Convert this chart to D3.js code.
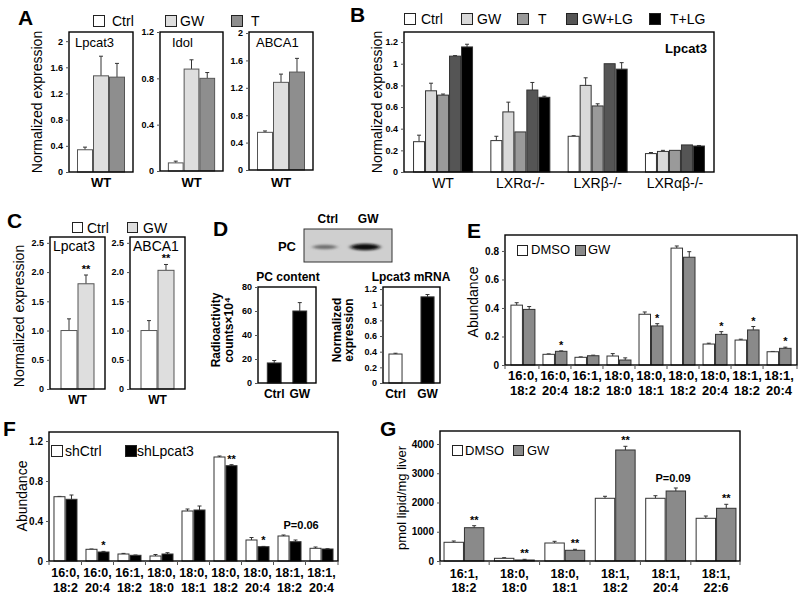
<!DOCTYPE html>
<html><head><meta charset="utf-8">
<script src="https://cdn.jsdelivr.net/npm/d3@7"></script>
<style>
body{margin:0;background:#fff;}
svg{display:block;font-family:"Liberation Sans",Arial,Helvetica,sans-serif;}
</style></head><body>
<svg id="c" width="800" height="596"></svg>
<script>
// ================= DATA =================
// Panel A
const aGroups = ["WT"];
const aSeries = ["Ctrl", "GW", "T"];
const aLpcat3 = [0.34, 1.47, 1.45];
const aLpcat3Err = [0.04, 0.30, 0.21];
const aIdol = [0.07, 0.88, 0.80];
const aIdolErr = [0.015, 0.08, 0.05];
const aABCA1 = [0.55, 1.28, 1.43];
const aABCA1Err = [0.02, 0.12, 0.20];
const aTicks2 = [0, 0.4, 0.8, 1.2, 1.6, 2];
const aTickLabels2 = ["0", "0.4", "0.8", "1.2", "1.6", "2"];
const aTicks12 = [0, 0.4, 0.8, 1.2];
const aTickLabels12 = ["0", "0.4", "0.8", "1.2"];

// Panel B
const bGroups = ["WT", "LXRα-/-", "LXRβ-/-", "LXRαβ-/-"];
const bSeries = ["Ctrl", "GW", "T", "GW+LG", "T+LG"];
const bCtrl = [0.28, 0.29, 0.33, 0.17];
const bGW = [0.75, 0.555, 0.80, 0.19];
const bT = [0.71, 0.37, 0.61, 0.20];
const bGWLG = [1.07, 0.757, 1.00, 0.25];
const bTLG = [1.155, 0.69, 0.95, 0.24];
const bCtrlErr = [0.06, 0.04, 0.005, 0.01];
const bGWErr = [0.07, 0.09, 0.07, 0.01];
const bTErr = [0.01, 0.0, 0.02, 0.0];
const bGWLGErr = [0.005, 0.07, 0.0, 0.0];
const bTLGErr = [0.025, 0.01, 0.06, 0.005];
const bTicks = [0, 0.2, 0.4, 0.6, 0.8, 1, 1.2];
const bTickLabels = ["0", "0.2", "0.4", "0.6", "0.8", "1", "1.2"];

// Panel C
const cGroups = ["WT"];
const cSeries = ["Ctrl", "GW"];
const cLpcat3 = [1.0, 1.80];
const cLpcat3Err = [0.20, 0.15];
const cABCA1 = [1.0, 2.03];
const cABCA1Err = [0.17, 0.10];
const cSig = ["**"];
const cTicks = [0, 0.5, 1, 1.5, 2, 2.5];
const cTickLabels = ["0", "0.5", "1.0", "1.5", "2.0", "2.5"];

// Panel D
const dLanes = ["Ctrl", "GW"];
const dBandIntensity = [0.45, 0.95];
const dPCcontent = [16.7, 60];
const dPCcontentErr = [2, 7];
const dMRNA = [0.37, 1.10];
const dMRNAErr = [0.01, 0.03];
const dTicksPC = [0, 20, 40, 60, 80];
const dTickLabelsPC = ["0", "20", "40", "60", "80"];
const dTicksM = [0, 0.2, 0.4, 0.6, 0.8, 1, 1.2];
const dTickLabelsM = ["0", "0.2", "0.4", "0.6", "0.8", "1", "1.2"];

// Panel E
const eCats = [["16:0,", "18:2"], ["16:0,", "20:4"], ["16:1,", "18:2"], ["18:0,", "18:0"], ["18:0,", "18:1"], ["18:0,", "18:2"], ["18:0,", "20:4"], ["18:1,", "18:2"], ["18:1,", "20:4"]];
const eSeries = ["DMSO", "GW"];
const eDMSO = [0.42, 0.075, 0.054, 0.063, 0.356, 0.82, 0.147, 0.175, 0.093];
const eDMSOErr = [0.017, 0.003, 0.003, 0.017, 0.016, 0.015, 0.006, 0.006, 0.002];
const eGW = [0.39, 0.096, 0.065, 0.035, 0.274, 0.756, 0.215, 0.246, 0.117];
const eGWErr = [0.02, 0.003, 0.004, 0.015, 0.016, 0.039, 0.019, 0.024, 0.008];
const eSig = ["", "*", "", "", "*", "", "*", "*", "*"];
const eTicks = [0, 0.2, 0.4, 0.6, 0.8];
const eTickLabels = ["0", "0.2", "0.4", "0.6", "0.8"];

// Panel F
const fCats = eCats;
const fSeries = ["shCtrl", "shLpcat3"];
const fShCtrl = [0.643, 0.117, 0.07, 0.05, 0.50, 1.04, 0.21, 0.25, 0.127];
const fShCtrlErr = [0.003, 0.003, 0.006, 0.015, 0.02, 0.01, 0.025, 0.01, 0.013];
const fShLpcat3 = [0.617, 0.09, 0.057, 0.07, 0.51, 0.953, 0.143, 0.193, 0.12];
const fShLpcat3Err = [0.043, 0.006, 0.003, 0.013, 0.04, 0.01, 0.003, 0.017, 0.003];
const fSig = ["", "*", "", "", "", "**", "*", "P=0.06", ""];
const fTicks = [0, 0.4, 0.8, 1.2];
const fTickLabels = ["0", "0.4", "0.8", "1.2"];

// Panel G
const gCats = [["16:1,", "18:2"], ["18:0,", "18:0"], ["18:0,", "18:1"], ["18:1,", "18:2"], ["18:1,", "20:4"], ["18:1,", "22:6"]];
const gSeries = ["DMSO", "GW"];
const gDMSO = [640, 92, 615, 2144, 2144, 1460];
const gDMSOErr = [44, 21, 58, 68, 88, 78];
const gGW = [1138, 34, 366, 3795, 2393, 1802];
const gGWErr = [69, 24, 34, 126, 103, 136];
const gSig = ["**", "**", "**", "**", "P=0.09", "**"];
const gTicks = [0, 1000, 2000, 3000, 4000];
const gTickLabels = ["0", "1000", "2000", "3000", "4000"];

// ================= DRAWING =================
const FONT = "'Liberation Sans', Arial, Helvetica, sans-serif";
const svg = d3.select("#c");
svg.append("rect").attr("width", 800).attr("height", 596).attr("fill", "#fff");

function txt(x, y, s, o = {}) {
  const t = svg.append("text").attr("x", x).attr("y", y).text(s)
    .attr("font-size", o.size || 12).attr("font-weight", o.bold ? "bold" : "normal")
    .attr("text-anchor", o.anchor || "start").attr("fill", o.fill || "#000")
    .attr("font-family", FONT);
  if (o.rotate) t.attr("transform", `rotate(-90,${x},${y})`).attr("dominant-baseline", "central");
  return t;
}

function legend(items, colors, boxX, textX, boxY, base, size, box) {
  items.forEach((s, i) => {
    svg.append("rect").attr("x", boxX[i] + 0.5).attr("y", boxY + 0.5).attr("width", box).attr("height", box)
      .attr("fill", colors[i]).attr("stroke", "#222").attr("stroke-width", 1);
    txt(textX[i], base, s, { size });
  });
}

function barChart(c) {
  const [x0, y0, x1, y1] = c.frame;
  const g = svg.append("g");
  const y = d3.scaleLinear().domain([0, c.yMax]).range([y1, y0]);
  const xg = d3.scaleBand().domain(c.groups.map((d, i) => i)).range([x0, x1]).paddingInner(c.pi).paddingOuter(c.po);
  const xs = d3.scaleBand().domain(c.series).range([0, xg.bandwidth()]);
  const rows = [];
  c.series.forEach((s, si) => c.groups.forEach((gr, gi) => rows.push({
    s, si, gi, v: c.values[si][gi], e: c.errs ? c.errs[si][gi] : 0
  })));
  const bx = d => xg(d.gi) + xs(d.s);
  const cx = d => bx(d) + xs.bandwidth() / 2;
  const eb = rows.filter(d => d.e > 0);
  g.selectAll("line.err").data(eb).join("line").attr("class", "err")
    .attr("x1", cx).attr("x2", cx).attr("y1", d => y(d.v)).attr("y2", d => y(d.v + d.e))
    .attr("stroke", "#333").attr("stroke-width", 1);
  g.selectAll("line.cap").data(eb).join("line").attr("class", "cap")
    .attr("x1", d => cx(d) - 2).attr("x2", d => cx(d) + 2).attr("y1", d => y(d.v + d.e)).attr("y2", d => y(d.v + d.e))
    .attr("stroke", "#333").attr("stroke-width", 1);
  g.selectAll("rect.bar").data(rows).join("rect").attr("class", "bar")
    .attr("x", d => bx(d) + 0.5).attr("y", d => y(d.v)).attr("width", xs.bandwidth() - 1)
    .attr("height", d => y(0) - y(d.v))
    .attr("fill", d => c.colorByGroup ? c.colors[d.gi] : c.colors[d.si])
    .attr("stroke", c.barStroke || "#333").attr("stroke-width", 1);
  // frame
  g.append("rect").attr("x", x0).attr("y", y0).attr("width", x1 - x0).attr("height", y1 - y0)
    .attr("fill", "none").attr("stroke", "#000").attr("stroke-width", c.frameW || 1.4);
  // y axis
  const ax = g.append("g").attr("transform", `translate(${x0},0)`)
    .call(d3.axisLeft(y).tickValues(c.ticks).tickFormat((d, i) => c.tickLabels[i]).tickSizeInner(3).tickSizeOuter(0).tickPadding(3));
  ax.select(".domain").remove();
  ax.attr("font-family", FONT).attr("font-size", c.tickSize || 9).attr("font-weight", "bold");
  ax.selectAll("line").attr("stroke", "#555");
  // category ticks along bottom
  if (c.catTicks) {
    const half = xg.step() * c.pi / 2;
    const bounds = [x0].concat(c.groups.slice(1).map((d, i) => xg(i + 1) - half)).concat([x1]);
    g.selectAll("line.ct").data(bounds).join("line").attr("class", "ct")
      .attr("x1", d => d).attr("x2", d => d).attr("y1", y1).attr("y2", y1 + 4)
      .attr("stroke", "#555").attr("stroke-width", 1);
  }
  // category labels
  if (c.labels) {
    c.labels.forEach((lines, gi) => {
      const xc = xg(gi) + xg.bandwidth() / 2;
      (Array.isArray(lines) ? lines : [lines]).forEach((ln, li) => {
        txt(xc, c.labelY[li], ln, { size: c.labelSize || 12, bold: c.labelBold !== false, anchor: "middle" });
      });
    });
  }
  // significance
  if (c.sig) {
    c.sig.forEach((s, gi) => {
      if (!s) return;
      const tops = c.series.map((ser, si) => y(c.values[si][gi] + (c.errs ? c.errs[si][gi] : 0)));
      if (s.startsWith("P")) {
        const r = rows.find(d => d.gi === gi && d.si === 0);
        txt(cx(r), d3.min(tops) - 6, s, { size: c.sigPSize || 11, bold: true });
      } else {
        const si = c.sigSeries;
        const r = rows.find(d => d.gi === gi && d.si === si);
        txt(cx(r), tops[si] - 2, s, { size: 11, bold: true, anchor: "middle" });
      }
    });
  }
  return { y, xg, xs };
}

// ---------- Panel A ----------
txt(18, 25, "A", { size: 21, bold: true });
const aColors = ["#ffffff", "#dedede", "#8e8e8e"];
legend(aSeries, aColors, [93, 165, 231], [112, 180, 251], 15, 26, 14, 11);
const aCharts = [
  { frame: [69, 32, 133, 172], vals: aLpcat3, errs: aLpcat3Err, yMax: 2.14, ticks: aTicks2, tl: aTickLabels2, title: "Lpcat3", tx: 6 },
  { frame: [160, 32, 223, 171], vals: aIdol, errs: aIdolErr, yMax: 1.2, ticks: aTicks12, tl: aTickLabels12, title: "Idol", tx: 12 },
  { frame: [249, 32, 313, 170], vals: aABCA1, errs: aABCA1Err, yMax: 2.015, ticks: aTicks2, tl: aTickLabels2, title: "ABCA1", tx: 7 }
];
aCharts.forEach(a => {
  barChart({
    frame: a.frame, yMax: a.yMax, ticks: a.ticks, tickLabels: a.tl,
    groups: aGroups, series: aSeries, values: a.vals.map(v => [v]), errs: a.errs.map(v => [v]),
    colors: aColors, pi: 0, po: 0.1667, barStroke: "#555",
    labels: aGroups, labelY: [187], labelSize: 13
  });
  txt(a.frame[0] + a.tx, 47, a.title, { size: 13 });
});
txt(37, 102, "Normalized expression", { size: 14, rotate: true, anchor: "middle" });

// ---------- Panel B ----------
txt(350, 22, "B", { size: 21, bold: true });
const bColors = ["#ffffff", "#d9d9d9", "#9a9a9a", "#555555", "#000000"];
legend(bSeries, bColors, [404, 461, 517, 566, 649], [421, 477, 538, 582, 670], 13, 24, 14, 11);
barChart({
  frame: [404, 32, 714, 172], yMax: 1.293, ticks: bTicks, tickLabels: bTickLabels,
  groups: bGroups, series: bSeries, values: [bCtrl, bGW, bT, bGWLG, bTLG],
  errs: [bCtrlErr, bGWErr, bTErr, bGWLGErr, bTLGErr],
  colors: bColors, pi: 0.224, po: 0.117,
  labels: bGroups, labelY: [188], labelSize: 14, labelBold: false
});
txt(707, 53, "Lpcat3", { size: 13, bold: true, anchor: "end" });
txt(377, 102, "Normalized expression", { size: 14, rotate: true, anchor: "middle" });

// ---------- Panel C ----------
txt(7, 228, "C", { size: 21, bold: true });
const cColors = ["#ffffff", "#dedede"];
legend(cSeries, cColors, [72, 127], [87, 143], 222, 233, 14, 10);
[
  { frame: [50, 237, 105, 389], vals: cLpcat3, errs: cLpcat3Err, title: "Lpcat3" },
  { frame: [130, 237, 185, 389], vals: cABCA1, errs: cABCA1Err, title: "ABCA1" }
].forEach(a => {
  barChart({
    frame: a.frame, yMax: 2.6, ticks: cTicks, tickLabels: cTickLabels,
    groups: cGroups, series: cSeries, values: a.vals.map(v => [v]), errs: a.errs.map(v => [v]),
    colors: cColors, pi: 0, po: 0.309, barStroke: "#555",
    labels: cGroups, labelY: [404], labelSize: 12,
    sig: cSig, sigSeries: 1
  });
  txt(a.frame[0] + 3, 251, a.title, { size: 14 });
});
txt(19, 316, "Normalized expression", { size: 14, rotate: true, anchor: "middle" });

// ---------- Panel D ----------
txt(213, 236, "D", { size: 21, bold: true });
// blot
const blotX = d3.scaleBand().domain(dLanes).range([304, 392]).padding(0.18);
const defs = svg.append("defs");
defs.append("filter").attr("id", "blur").attr("x", "-50%").attr("y", "-200%").attr("width", "200%").attr("height", "500%")
  .append("feGaussianBlur").attr("stdDeviation", "2.2 1.2");
svg.append("rect").attr("x", 304).attr("y", 229).attr("width", 88).attr("height", 33).attr("fill", "#cfcfcf");
svg.selectAll("ellipse.band").data(dLanes).join("ellipse").attr("class", "band")
  .attr("cx", d => blotX(d) + blotX.bandwidth() / 2 - 3).attr("cy", 247)
  .attr("rx", (d, i) => 10 + 5 * dBandIntensity[i]).attr("ry", (d, i) => 1.2 + 2.2 * dBandIntensity[i])
  .attr("fill", (d, i) => d3.interpolateGreys(0.35 + 0.65 * dBandIntensity[i]))
  .attr("filter", "url(#blur)");
svg.append("rect").attr("x", 304).attr("y", 229).attr("width", 88).attr("height", 33).attr("fill", "none").attr("stroke", "#333").attr("stroke-width", 1);
dLanes.forEach(l => txt(blotX(l) + blotX.bandwidth() / 2, 223, l, { size: 12, bold: true, anchor: "middle" }));
txt(296, 251, "PC", { size: 13, bold: true, anchor: "end" });

txt(288, 281, "PC content", { size: 12, bold: true, anchor: "middle" });
barChart({
  frame: [258, 287, 316, 383], yMax: 80, ticks: dTicksPC, tickLabels: dTickLabelsPC,
  groups: dLanes, series: ["PC"], values: [dPCcontent], errs: [dPCcontentErr],
  colors: ["#000"], pi: 0.42, po: 0.345,
  labels: dLanes, labelY: [398], labelSize: 12
});
txt(216, 330, "Radioactivity", { size: 12, bold: true, rotate: true, anchor: "middle" });
txt(229, 330, "counts×10⁴", { size: 12, bold: true, rotate: true, anchor: "middle" });

txt(411, 281, "Lpcat3 mRNA", { size: 12, bold: true, anchor: "middle" });
barChart({
  frame: [383, 287, 440, 383], yMax: 1.226, ticks: dTicksM, tickLabels: dTickLabelsM,
  groups: dLanes, series: ["mRNA"], values: [dMRNA], errs: [dMRNAErr],
  colors: ["#ffffff", "#000000"], colorByGroup: true, pi: 0.56, po: 0.17,
  labels: dLanes, labelY: [398], labelSize: 12
});
txt(337, 330, "Normalized", { size: 12, bold: true, rotate: true, anchor: "middle" });
txt(349, 330, "expression", { size: 12, bold: true, rotate: true, anchor: "middle" });

// ---------- Panel E ----------
txt(467, 238, "E", { size: 21, bold: true });
const eColors = ["#ffffff", "#8a8a8a"];
barChart({
  frame: [505, 235, 797, 365], yMax: 0.912, ticks: eTicks, tickLabels: eTickLabels,
  groups: eCats, series: eSeries, values: [eDMSO, eGW], errs: [eDMSOErr, eGWErr],
  colors: eColors, pi: 0.22, po: 0.17, catTicks: true, tickSize: 10,
  labels: eCats, labelY: [380, 395], labelSize: 13,
  sig: eSig, sigSeries: 1
});
legend(eSeries, eColors, [517, 575], [531, 588], 245, 254, 13, 10);
txt(473, 302, "Abundance", { size: 14, rotate: true, anchor: "middle" });

// ---------- Panel F ----------
txt(3, 436, "F", { size: 21, bold: true });
const fColors = ["#ffffff", "#000000"];
barChart({
  frame: [49, 432, 338, 561], yMax: 1.29, ticks: fTicks, tickLabels: fTickLabels,
  groups: fCats, series: fSeries, values: [fShCtrl, fShLpcat3], errs: [fShCtrlErr, fShLpcat3Err],
  colors: fColors, pi: 0.25, po: 0.14, catTicks: true, tickSize: 10,
  labels: fCats, labelY: [577, 592], labelSize: 12.5,
  sig: fSig, sigSeries: 1
});
legend(fSeries, fColors, [51, 125], [65, 137], 445, 456, 14, 11);
txt(22, 496, "Abundance", { size: 14, rotate: true, anchor: "middle" });

// ---------- Panel G ----------
txt(380, 436, "G", { size: 21, bold: true });
const gColors = ["#ffffff", "#8a8a8a"];
barChart({
  frame: [440, 431, 740, 561], yMax: 4444, ticks: gTicks, tickLabels: gTickLabels,
  groups: gCats, series: gSeries, values: [gDMSO, gGW], errs: [gDMSOErr, gGWErr],
  colors: gColors, pi: 0.19, po: 0.07, catTicks: true, tickSize: 10,
  labels: gCats, labelY: [578, 592], labelSize: 12.5,
  sig: gSig, sigSeries: 1
});
legend(gSeries, gColors, [452, 513], [465, 527], 445, 455, 13, 10);
txt(401, 498, "pmol lipid/mg liver", { size: 13, rotate: true, anchor: "middle" });
</script>
</body></html>
